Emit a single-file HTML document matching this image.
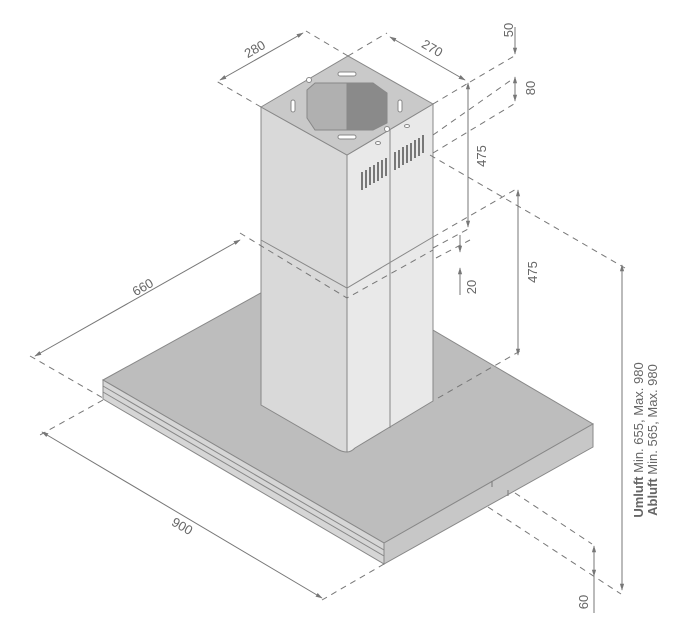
<!DOCTYPE html>
<html><head><meta charset="utf-8"><style>
html,body{margin:0;padding:0;background:#fff}
svg{display:block}
text{font-family:"Liberation Sans",sans-serif;fill:#666;font-size:13px}
</style></head><body>
<svg width="694" height="640" viewBox="0 0 694 640" xmlns="http://www.w3.org/2000/svg">
<defs>
<marker id="a" viewBox="0 0 10 10" refX="9" refY="5" markerWidth="7" markerHeight="7" orient="auto-start-reverse"><path d="M0,2 L10,5 L0,8 z" fill="#777"/></marker>
</defs>
<!-- canopy -->
<polygon points="103,380 317,262 593,424 384,543" fill="#bdbdbd" stroke="#888" stroke-width="1"/>
<polygon points="103,380 384,543 384,564 103,399" fill="#d6d6d6" stroke="#888" stroke-width="1"/>
<polygon points="384,543 593,424 593,447 384,564" fill="#c7c7c7" stroke="#888" stroke-width="1"/>
<line x1="103" y1="386" x2="384" y2="550" stroke="#888"/>
<line x1="103" y1="392" x2="384" y2="556" stroke="#888"/>
<line x1="492" y1="481" x2="492" y2="487" stroke="#777"/>
<line x1="508" y1="490" x2="508" y2="496" stroke="#777"/>
<!-- chimney -->
<path d="M261,107 L347,155 L347,452 Q343,452 339,450 L261,405 Z" fill="#d9d9d9" stroke="#888"/>
<path d="M347,155 L433,104 L433,401 L355,448 Q351,452 347,452 Z" fill="#e9e9e9" stroke="#888"/>
<polygon points="261,107 348,56 433,104 347,155" fill="#c9c9c9" stroke="#888"/>
<polyline points="261,240 347,288 433,237" fill="none" stroke="#888"/>
<line x1="390" y1="130" x2="390" y2="428" stroke="#888"/>
<!-- octagon opening -->
<polygon points="315,83 347,83 347,130 315,130 307,118 307,90" fill="#b0b0b0" stroke="#888"/>
<polygon points="347,83 373,83 387,93 387,123 373,130 347,130" fill="#8a8a8a" stroke="#888"/>
<rect x="338" y="72" width="18" height="4" rx="2" fill="#fff" stroke="#888"/>
<rect x="338" y="135" width="18" height="4" rx="2" fill="#fff" stroke="#888"/>
<rect x="291" y="100" width="4" height="12" rx="2" fill="#fff" stroke="#888"/>
<rect x="398" y="100" width="4" height="12" rx="2" fill="#fff" stroke="#888"/>
<circle cx="309" cy="80" r="2.5" fill="#fff" stroke="#888"/>
<circle cx="387" cy="129" r="2.5" fill="#fff" stroke="#888"/>
<ellipse cx="378" cy="143" rx="2.5" ry="1.5" fill="#fff" stroke="#888"/>
<ellipse cx="407" cy="126" rx="2.5" ry="1.5" fill="#fff" stroke="#888"/>
<!-- vents -->
<g stroke="#777" stroke-width="2">
<line x1="362" y1="172" x2="362" y2="190"/><line x1="366" y1="170" x2="366" y2="188"/><line x1="370" y1="167" x2="370" y2="185"/><line x1="374" y1="165" x2="374" y2="183"/><line x1="378" y1="162" x2="378" y2="181"/><line x1="382" y1="160" x2="382" y2="178"/><line x1="386" y1="158" x2="386" y2="176"/>
<line x1="395" y1="152" x2="395" y2="170"/><line x1="399" y1="150" x2="399" y2="168"/><line x1="403" y1="147" x2="403" y2="165"/><line x1="407" y1="145" x2="407" y2="163"/><line x1="411" y1="143" x2="411" y2="161"/><line x1="415" y1="140" x2="415" y2="158"/><line x1="419" y1="138" x2="419" y2="156"/><line x1="423" y1="135" x2="423" y2="153"/>
</g>
<!-- dashed extension lines -->
<g stroke="#777" stroke-width="1" stroke-dasharray="6,5" fill="none">
<line x1="261" y1="107" x2="216" y2="81"/>
<line x1="348" y1="56" x2="306" y2="31"/>
<line x1="348" y1="56" x2="387" y2="33"/>
<line x1="433" y1="104" x2="470" y2="82"/>
<line x1="470" y1="82" x2="516" y2="55"/>
<line x1="433" y1="135" x2="514" y2="78"/>
<line x1="433" y1="153" x2="514" y2="104"/>
<line x1="430" y1="155" x2="625" y2="268"/>
<line x1="433" y1="237" x2="518" y2="188"/>
<line x1="433" y1="248" x2="470" y2="228"/>
<line x1="436" y1="258" x2="470" y2="240"/>
<polyline points="240,233 347,298 433,250"/>
<line x1="438" y1="398" x2="522" y2="350"/>
<line x1="30" y1="356" x2="103" y2="398"/>
<line x1="103" y1="400" x2="40" y2="435"/>
<line x1="384" y1="564" x2="322" y2="600"/>
<line x1="515" y1="493" x2="592" y2="544"/>
<line x1="488" y1="507" x2="621" y2="594"/>
</g>
<!-- dimension lines -->
<g stroke="#777" stroke-width="1" fill="none">
<line x1="220" y1="80" x2="303" y2="33" marker-start="url(#a)" marker-end="url(#a)"/>
<line x1="390" y1="37" x2="465" y2="80" marker-start="url(#a)" marker-end="url(#a)"/>
<line x1="515" y1="27" x2="515" y2="54" marker-end="url(#a)"/>
<line x1="515" y1="77" x2="515" y2="101" marker-start="url(#a)" marker-end="url(#a)"/>
<line x1="468" y1="83" x2="468" y2="227" marker-start="url(#a)" marker-end="url(#a)"/>
<line x1="518" y1="190" x2="518" y2="355" marker-start="url(#a)" marker-end="url(#a)"/>
<line x1="460" y1="235" x2="460" y2="252" marker-end="url(#a)"/>
<line x1="460" y1="295" x2="460" y2="268" marker-end="url(#a)"/>
<line x1="35" y1="356" x2="240" y2="240" marker-start="url(#a)" marker-end="url(#a)"/>
<line x1="42" y1="432" x2="322" y2="598" marker-start="url(#a)" marker-end="url(#a)"/>
<line x1="594" y1="546" x2="594" y2="576" marker-start="url(#a)" marker-end="url(#a)"/>
<line x1="594" y1="576" x2="594" y2="613"/>
<line x1="622" y1="265" x2="622" y2="590" marker-start="url(#a)" marker-end="url(#a)"/>
</g>
<!-- labels -->
<text transform="translate(257,53) rotate(-30)" text-anchor="middle">280</text>
<text transform="translate(430,52) rotate(30)" text-anchor="middle">270</text>
<text transform="translate(513,30) rotate(-90)" text-anchor="middle">50</text>
<text transform="translate(535,88) rotate(-90)" text-anchor="middle">80</text>
<text transform="translate(486,156) rotate(-90)" text-anchor="middle">475</text>
<text transform="translate(537,272) rotate(-90)" text-anchor="middle">475</text>
<text transform="translate(476,287) rotate(-90)" text-anchor="middle">20</text>
<text transform="translate(145,291) rotate(-30)" text-anchor="middle">660</text>
<text transform="translate(180,530) rotate(30)" text-anchor="middle">900</text>
<text transform="translate(588,602) rotate(-90)" text-anchor="middle">60</text>
<text transform="translate(643,440) rotate(-90)" text-anchor="middle" font-size="12.5"><tspan font-weight="bold">Umluft</tspan> Min. 655, Max. 980</text>
<text transform="translate(657,440) rotate(-90)" text-anchor="middle" font-size="12.5"><tspan font-weight="bold">Abluft</tspan> Min. 565, Max. 980</text>
</svg>
</body></html>
